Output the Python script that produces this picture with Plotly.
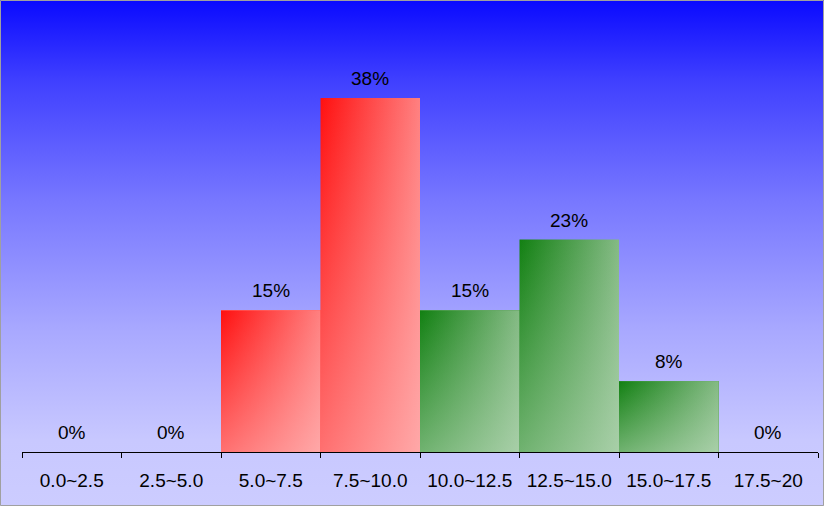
import base64
import plotly.graph_objects as go

# ---- data ----
bins = ["0.0~2.5", "2.5~5.0", "5.0~7.5", "7.5~10.0",
        "10.0~12.5", "12.5~15.0", "15.0~17.5", "17.5~20"]
upper_edges = [2.5, 5.0, 7.5, 10.0, 12.5, 15.0, 17.5, 20.0]
percent = [0, 0, 15.38, 38.46, 15.38, 23.08, 7.69, 0]
labels = ["0%", "0%", "15%", "38%", "15%", "23%", "8%", "0%"]
red_limit = 10.0

# ---- style ----
W, H = 824, 506
ML, MR, MT, MB = 22, 6, 0, 54
PW, PH = W - ML - MR, H - MT - MB
FONT = "Liberation Sans, Arial, sans-serif"
FS = 19

RED = dict(tl="rgb(255,16,16)", tr="rgb(255,128,128)", mid="rgb(255,110,110)")
GREEN = dict(tl="rgb(18,128,18)", tr="rgb(132,186,132)", mid="rgb(100,165,100)")


def px_x(px):
    return (px - ML) / PW


def px_y(py):
    return (MT + PH - py) / PH


bg_svg = f"""<svg xmlns='http://www.w3.org/2000/svg' width='{W}' height='{H}' viewBox='0 0 {W} {H}' preserveAspectRatio='none'>
<defs><linearGradient id='g' x1='0' y1='0' x2='0' y2='1'>
<stop offset='0' stop-color='rgb(10,10,255)'/>
<stop offset='0.16' stop-color='rgb(64,64,255)'/>
<stop offset='0.40' stop-color='rgb(120,120,255)'/>
<stop offset='0.65' stop-color='rgb(168,168,255)'/>
<stop offset='0.87' stop-color='rgb(200,200,255)'/>
<stop offset='1' stop-color='rgb(204,204,255)'/>
</linearGradient></defs>
<rect x='0' y='0' width='{W}' height='{H}' fill='url(#g)'/></svg>"""
bg_src = "data:image/svg+xml;base64," + base64.b64encode(bg_svg.encode()).decode()

fig = go.Figure()

is_red = [u <= red_limit for u in upper_edges]

fig.add_trace(go.Bar(
    x=bins, y=percent, width=1,
    marker=dict(color=[RED["mid"] if r else GREEN["mid"] for r in is_red], line=dict(width=0)),
    hoverinfo="skip", showlegend=False,
))

for i, v in enumerate(percent):
    if v <= 0:
        continue
    pal = RED if is_red[i] else GREEN
    xs = [i - 0.5, i + 0.5, i + 0.5, i - 0.5, i - 0.5]
    ys = [0, 0, v, v, 0]
    fig.add_trace(go.Scatter(
        x=xs, y=ys, xaxis="x2", yaxis="y", mode="lines", fill="toself",
        line=dict(width=0), hoverinfo="skip", showlegend=False,
        fillgradient=dict(type="horizontal", colorscale=[[0, pal["tl"]], [1, pal["tr"]]],
                          start=i - 0.5, stop=i + 0.5),
    ))
    ov = "255,208,208" if is_red[i] else "205,228,205"
    fig.add_trace(go.Scatter(
        x=xs, y=ys, xaxis="x2", yaxis="y", mode="lines", fill="toself",
        line=dict(width=0), hoverinfo="skip", showlegend=False,
        fillgradient=dict(type="vertical",
                          colorscale=[[0, f"rgba({ov},0.5)"], [1, f"rgba({ov},0)"]],
                          start=0, stop=v),
    ))

for i, (b, v, t) in enumerate(zip(bins, percent, labels)):
    fig.add_annotation(x=b, y=v, xref="x", yref="y", text=t, showarrow=False,
                       yanchor="bottom", yshift=7, font=dict(family=FONT, size=FS, color="black"))

fig.update_layout(
    width=W, height=H,
    margin=dict(l=ML, r=MR, t=MT, b=MB, pad=0),
    paper_bgcolor="rgb(204,204,255)",
    plot_bgcolor="rgba(0,0,0,0)",
    bargap=0,
    showlegend=False,
    font=dict(family=FONT, size=FS, color="black"),
    xaxis=dict(type="category", range=[-0.5, 7.5], tickson="boundaries",
               ticks="outside", ticklen=5, tickwidth=1, tickcolor="black",
               showline=True, linecolor="black", linewidth=1,
               showgrid=False, zeroline=False, fixedrange=True,
               tickfont=dict(family=FONT, size=FS, color="black"), ticklabelstandoff=11),
    xaxis2=dict(overlaying="x", range=[-0.5, 7.5], visible=False, fixedrange=True),
    yaxis=dict(range=[0, 49.1], visible=False, showgrid=False, zeroline=False, fixedrange=True),
    images=[dict(source=bg_src, xref="paper", yref="paper", x=px_x(0), y=px_y(0),
                 sizex=W / PW, sizey=H / PH, xanchor="left", yanchor="top",
                 sizing="stretch", layer="below")],
    shapes=[dict(type="rect", xref="paper", yref="paper",
                 x0=px_x(0.5), x1=px_x(W - 0.5), y0=px_y(H - 0.5), y1=px_y(0.5),
                 line=dict(color="#a0a0a0", width=1), fillcolor="rgba(0,0,0,0)", layer="above")],
)

fig.write_html("out.html", post_script="document.body.style.margin='0';",
               config={"displayModeBar": False})
